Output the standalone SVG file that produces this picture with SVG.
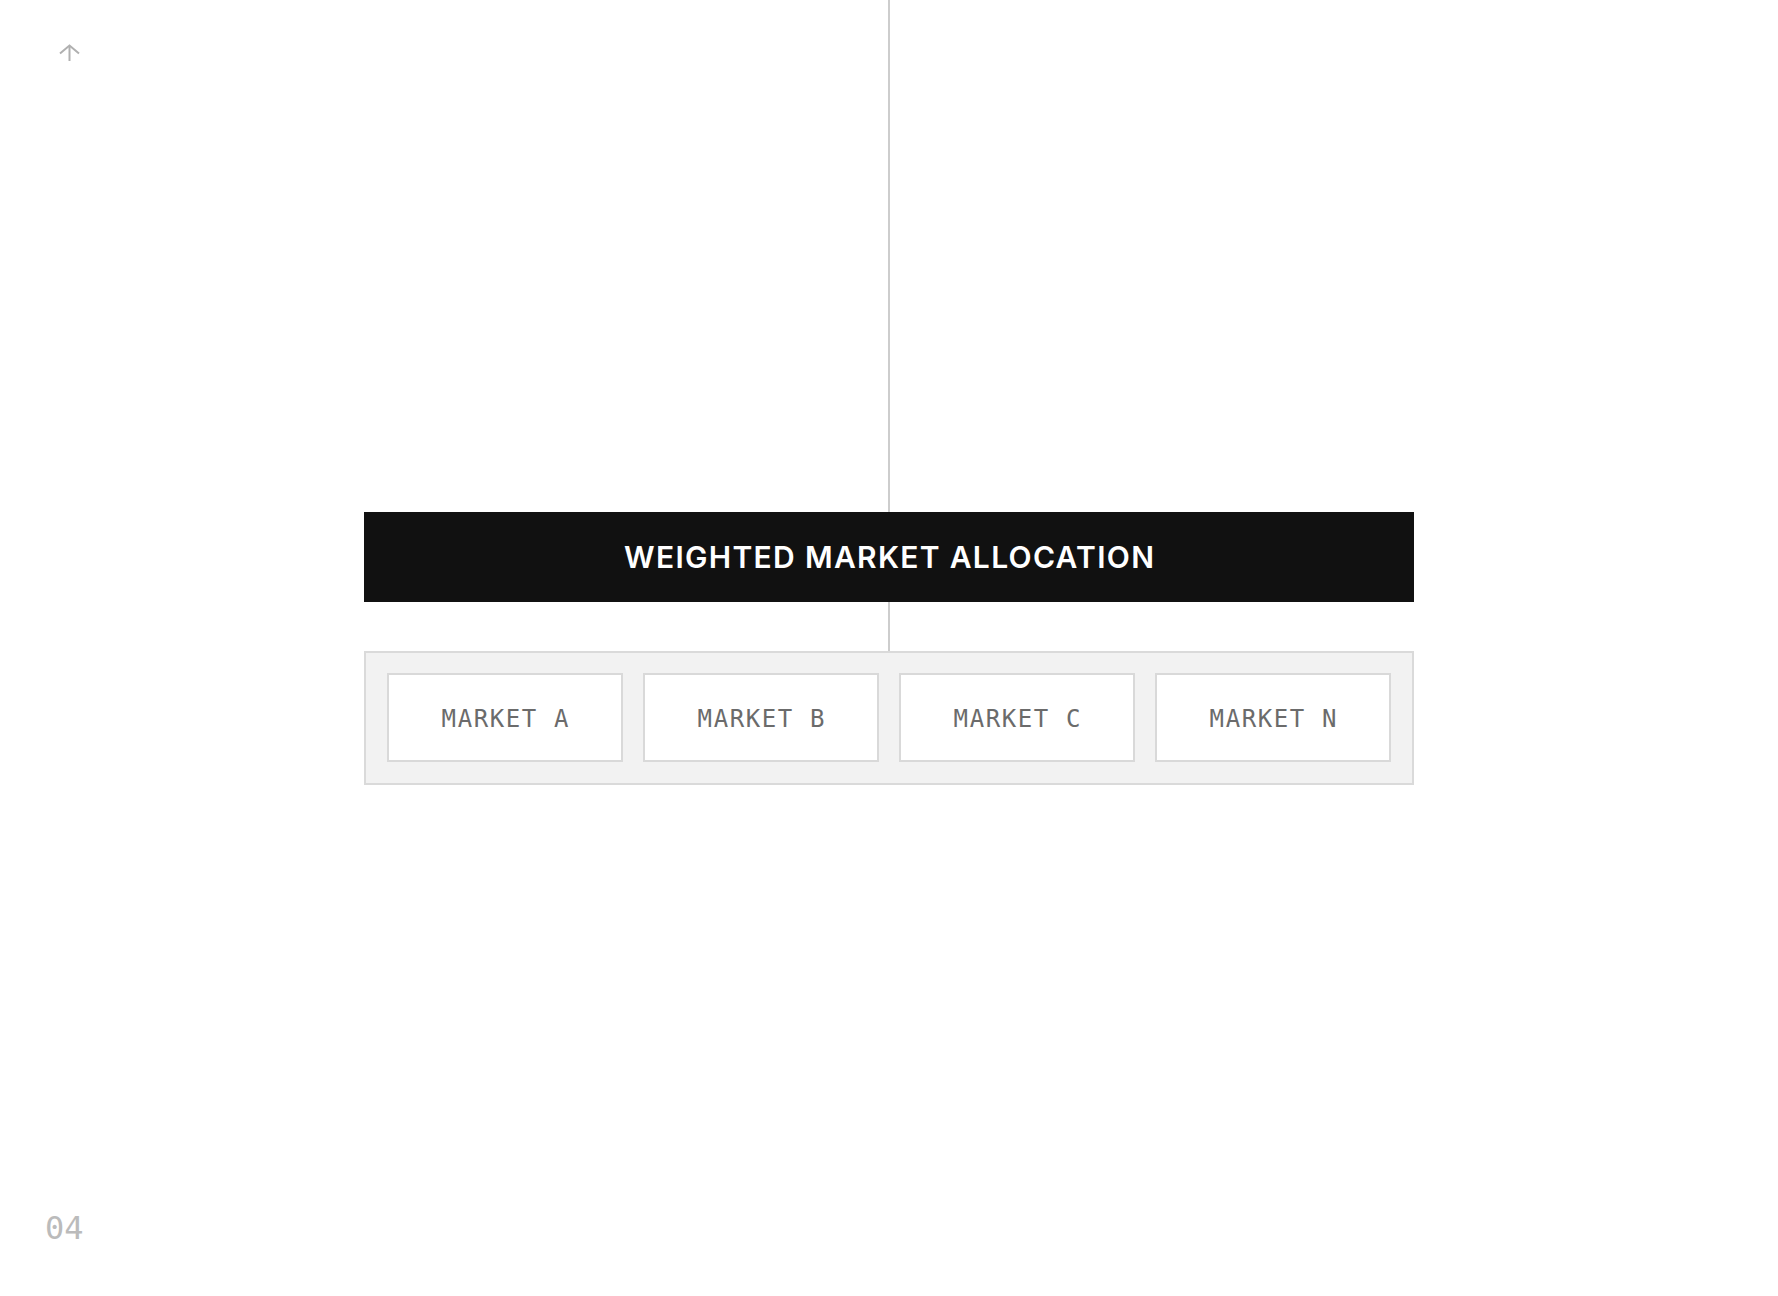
<svg xmlns="http://www.w3.org/2000/svg" width="1778" height="1296" viewBox="0 0 1778 1296">
<style>
.title{font-family:Inter,"Liberation Sans",Arial,sans-serif;font-weight:600;font-size:30px;fill:#ffffff;}
.mk{font-family:"DejaVu Sans Mono","Liberation Mono",monospace;font-size:24px;fill:#6b6b6b;letter-spacing:1.6px;}
.box{fill:#ffffff;stroke:#d9d9d9;stroke-width:2;}
.conn{stroke:#bdbdbd;stroke-width:1.5;fill:none;}
</style>
<rect x="0" y="0" width="1778" height="1296" fill="#ffffff"/>
<g id="connectors">
<line class="conn" x1="889" y1="0" x2="889" y2="651"/>
</g>
<g id="nav-arrow" stroke="#b0b0b0" stroke-width="2" fill="none">
<line x1="69.5" y1="46" x2="69.5" y2="61"/>
<polyline points="60,53.5 69.5,45.5 79,53.5"/>
</g>
<g id="allocation">
<rect x="364" y="512" width="1050" height="90" fill="#111111"/>
<text class="title" x="889" y="568" text-anchor="middle" textLength="530" lengthAdjust="spacing">WEIGHTED MARKET ALLOCATION</text>
</g>
<g id="markets">
<rect x="365" y="652" width="1048" height="132" fill="#f2f2f2" stroke="#dadada" stroke-width="2"/>
<g id="market-a">
<rect class="box" x="388" y="674" width="234" height="87"/>
<text class="mk" x="505.8" y="727" text-anchor="middle">MARKET A</text>
</g>
<g id="market-b">
<rect class="box" x="644" y="674" width="234" height="87"/>
<text class="mk" x="761.8" y="727" text-anchor="middle">MARKET B</text>
</g>
<g id="market-c">
<rect class="box" x="900" y="674" width="234" height="87"/>
<text class="mk" x="1017.8" y="727" text-anchor="middle">MARKET C</text>
</g>
<g id="market-n">
<rect class="box" x="1156" y="674" width="234" height="87"/>
<text class="mk" x="1273.8" y="727" text-anchor="middle">MARKET N</text>
</g>
</g>
<g id="page-number">
<text x="45" y="1239" font-family="DejaVu Sans Mono, Liberation Mono, monospace" font-size="32" fill="#bbbbbb">04</text>
</g>
</svg>
